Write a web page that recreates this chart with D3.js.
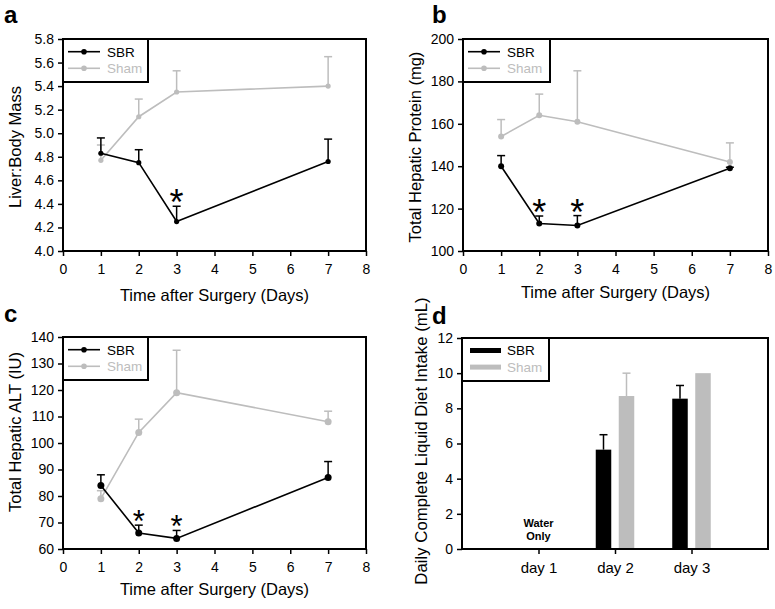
<!DOCTYPE html>
<html><head><meta charset="utf-8">
<script src="https://cdn.jsdelivr.net/npm/d3@7"></script>
<style>body{margin:0;background:#fff} svg{display:block} text{font-family:"Liberation Sans",Arial,sans-serif}</style>
</head><body><svg id="chart" width="775" height="609"></svg>
<script>
// ---- data ----
const days = [1, 2, 3, 7];
const xTicks = [0, 1, 2, 3, 4, 5, 6, 7, 8];
const seriesNames = ["SBR", "Sham"];

const massSBR = [4.83, 4.75, 4.25, 4.76];
const massSBRErr = [4.96, 4.86, 4.38, 4.95];
const massSham = [4.77, 5.14, 5.35, 5.40];
const massShamErr = [4.90, 5.29, 5.53, 5.65];
const massTicks = [4.0, 4.2, 4.4, 4.6, 4.8, 5.0, 5.2, 5.4, 5.6, 5.8];
const massStars = [3];

const protSBR = [140, 113, 112, 139];
const protSBRErr = [145, 116.5, 116.7, 139.5];
const protSham = [154, 164, 161, 142];
const protShamErr = [162, 174, 185, 151];
const protTicks = [100, 120, 140, 160, 180, 200];
const protStars = [2, 3];

const altSBR = [84, 66, 64, 87];
const altSBRErr = [88, 69, 67, 93];
const altSham = [79, 104, 119, 108];
const altShamErr = [82, 109, 135, 112];
const altTicks = [60, 70, 80, 90, 100, 110, 120, 130, 140];
const altStars = [2, 3];

const dietDays = ["day 1", "day 2", "day 3"];
const dietSBR = [null, 5.65, 8.55];
const dietSBRErr = [null, 6.5, 9.3];
const dietSham = [null, 8.7, 10.0];
const dietShamErr = [null, 10.0, 10.0];
const dietTicks = [0, 2, 4, 6, 8, 10, 12];
const dietNote = ["Water", "Only"];

// ---- styles ----
const BLACK = "#000", GREY = "#bdbdbd";
const svg = d3.select("#chart");

function frame(g, L, R, T, B) {
  g.append("rect").attr("x", L).attr("y", T).attr("width", R - L).attr("height", B - T)
    .attr("fill", "none").attr("stroke", BLACK).attr("stroke-width", 2);
}
function styleAxis(sel) {
  sel.select(".domain").remove();
  sel.selectAll(".tick line").attr("stroke", BLACK).attr("stroke-width", 1.5);
  sel.selectAll(".tick text").attr("fill", BLACK).attr("font-size", 14)
    .style("font-family", '"Liberation Sans",Arial,sans-serif');
}

function linePanel(cfg) {
  const g = svg.append("g");
  const x = d3.scaleLinear().domain([0, 8]).range([cfg.L, cfg.R]);
  const y = d3.scaleLinear().domain([cfg.ticks[0], cfg.ticks[cfg.ticks.length - 1]]).range([cfg.B, cfg.T]);

  const ax = g.append("g").attr("transform", `translate(0,${cfg.B})`)
    .call(d3.axisBottom(x).tickValues(xTicks).tickSize(5).tickPadding(8).tickFormat(d3.format("d")));
  styleAxis(ax);
  const ay = g.append("g").attr("transform", `translate(${cfg.L},0)`)
    .call(d3.axisLeft(y).tickValues(cfg.ticks).tickSize(5).tickPadding(4).tickFormat(cfg.fmt));
  styleAxis(ay);

  const series = [
    {vals: cfg.sham, err: cfg.shamErr, color: GREY},
    {vals: cfg.sbr, err: cfg.sbrErr, color: BLACK}
  ];
  series.forEach(s => {
    const pts = days.map((d, i) => ({d, v: s.vals[i], e: s.err[i]}));
    pts.forEach(p => {
      g.append("line").attr("x1", x(p.d)).attr("x2", x(p.d)).attr("y1", y(p.v)).attr("y2", y(p.e))
        .attr("stroke", s.color).attr("stroke-width", 1.5);
      g.append("line").attr("x1", x(p.d) - 4).attr("x2", x(p.d) + 4).attr("y1", y(p.e)).attr("y2", y(p.e))
        .attr("stroke", s.color).attr("stroke-width", 1.5);
    });
    g.append("path").datum(pts)
      .attr("d", d3.line().x(p => x(p.d)).y(p => y(p.v)))
      .attr("fill", "none").attr("stroke", s.color).attr("stroke-width", 1.6);
    g.selectAll(null).data(pts).enter().append("circle")
      .attr("cx", p => x(p.d)).attr("cy", p => y(p.v)).attr("r", cfg.r).attr("fill", s.color);
  });

  // asterisks: glyph centre placed ~8px above the SBR error cap
  cfg.stars.forEach(d => {
    const i = days.indexOf(d);
    const centre = y(cfg.sbrErr[i]) - 8;
    g.append("text").attr("x", x(d)).attr("y", centre + 0.47 * cfg.starSize)
      .attr("text-anchor", "middle").attr("font-size", cfg.starSize).attr("fill", BLACK).text("*");
  });

  frame(g, cfg.L, cfg.R, cfg.T, cfg.B);

  // legend
  const lw = cfg.legW, lh = 43;
  g.append("rect").attr("x", cfg.L).attr("y", cfg.T).attr("width", lw).attr("height", lh)
    .attr("fill", "#fff").attr("stroke", BLACK).attr("stroke-width", 2);
  [BLACK, GREY].forEach((c, k) => {
    const yy = cfg.T + 12.7 + k * 16.6;
    g.append("line").attr("x1", cfg.L + 5).attr("x2", cfg.L + 37).attr("y1", yy).attr("y2", yy)
      .attr("stroke", c).attr("stroke-width", 1.6);
    g.append("circle").attr("cx", cfg.L + 21).attr("cy", yy).attr("r", 2.8).attr("fill", c);
    g.append("text").attr("x", cfg.L + 44).attr("y", yy).attr("dy", "0.36em")
      .attr("font-size", 13.5).attr("fill", c).text(seriesNames[k]);
  });

  // titles
  g.append("text").attr("x", (cfg.L + cfg.R) / 2).attr("y", cfg.xtY).attr("text-anchor", "middle")
    .attr("font-size", 16.5).attr("fill", BLACK).text("Time after Surgery (Days)");
  g.append("text").attr("transform", `translate(${cfg.ytX},${cfg.ytY}) rotate(-90)`)
    .attr("text-anchor", "middle").attr("dy", "0.35em").attr("font-size", 16.5).attr("fill", BLACK).text(cfg.ytitle);
  g.append("text").attr("x", cfg.lx).attr("y", cfg.ly).attr("font-size", 24).attr("font-weight", "bold")
    .attr("fill", BLACK).text(cfg.letter);
}

linePanel({L: 63, R: 366, T: 39, B: 251, ticks: massTicks, fmt: d3.format(".1f"),
  sbr: massSBR, sbrErr: massSBRErr, sham: massSham, shamErr: massShamErr, stars: massStars,
  r: 2.6, starSize: 36, legW: 85, xtY: 301, ytX: 15, ytY: 147, ytitle: "Liver:Body Mass",
  letter: "a", lx: 4, ly: 23});
linePanel({L: 463, R: 768, T: 39, B: 251, ticks: protTicks, fmt: d3.format("d"),
  sbr: protSBR, sbrErr: protSBRErr, sham: protSham, shamErr: protShamErr, stars: protStars,
  r: 3, starSize: 36, legW: 87, xtY: 298, ytX: 415, ytY: 147, ytitle: "Total Hepatic Protein (mg)",
  letter: "b", lx: 432, ly: 23});
linePanel({L: 63, R: 366, T: 337, B: 549, ticks: altTicks, fmt: d3.format("d"),
  sbr: altSBR, sbrErr: altSBRErr, sham: altSham, shamErr: altShamErr, stars: altStars,
  r: 3.5, starSize: 31, legW: 85, xtY: 595, ytX: 15, ytY: 432, ytitle: "Total Hepatic ALT (IU)",
  letter: "c", lx: 4, ly: 322});

// ---- panel d: bars ----
(function () {
  const L = 462, R = 768, T = 338, B = 549;
  const g = svg.append("g");
  const x = d3.scaleLinear().domain([0, 4]).range([L, R]);
  const y = d3.scaleLinear().domain([0, 12]).range([B, T]);
  const ax = g.append("g").attr("transform", `translate(0,${B})`)
    .call(d3.axisBottom(x).tickValues([1, 2, 3]).tickSize(5).tickPadding(8).tickFormat(i => dietDays[i - 1]));
  styleAxis(ax);
  ax.selectAll(".tick text").attr("font-size", 15);
  const ay = g.append("g").attr("transform", `translate(${L},0)`)
    .call(d3.axisLeft(y).tickValues(dietTicks).tickSize(5).tickPadding(4));
  styleAxis(ay);

  const bw = 15.5, off = 11.5;
  const groups = [
    {vals: dietSBR, err: dietSBRErr, color: BLACK, dx: -off},
    {vals: dietSham, err: dietShamErr, color: GREY, dx: off}
  ];
  groups.forEach(s => {
    dietDays.forEach((d, i) => {
      const v = s.vals[i];
      if (v == null) return;
      const cx = x(i + 1) + s.dx;
      const e = s.err[i];
      if (e > v) {
        g.append("line").attr("x1", cx).attr("x2", cx).attr("y1", y(v)).attr("y2", y(e))
          .attr("stroke", s.color).attr("stroke-width", 1.5);
        g.append("line").attr("x1", cx - 4).attr("x2", cx + 4).attr("y1", y(e)).attr("y2", y(e))
          .attr("stroke", s.color).attr("stroke-width", 1.5);
      }
      g.append("rect").attr("x", cx - bw / 2).attr("y", y(v)).attr("width", bw).attr("height", y(0) - y(v))
        .attr("fill", s.color);
    });
  });

  dietNote.forEach((t, k) => {
    g.append("text").attr("x", x(1)).attr("y", 527 + k * 12.5).attr("text-anchor", "middle")
      .attr("font-size", 11).attr("font-weight", "bold").attr("fill", BLACK).text(t);
  });

  frame(g, L, R, T, B);

  g.append("rect").attr("x", L).attr("y", T).attr("width", 87).attr("height", 43)
    .attr("fill", "#fff").attr("stroke", BLACK).attr("stroke-width", 2);
  [BLACK, GREY].forEach((c, k) => {
    const yy = T + 12.5 + k * 16.6;
    g.append("rect").attr("x", L + 8).attr("y", yy - 2.5).attr("width", 31).attr("height", 5).attr("fill", c);
    g.append("text").attr("x", L + 45).attr("y", yy).attr("dy", "0.36em")
      .attr("font-size", 13.5).attr("fill", c).text(seriesNames[k]);
  });

  g.append("text").attr("transform", `translate(421,441) rotate(-90)`)
    .attr("text-anchor", "middle").attr("dy", "0.35em").attr("font-size", 16.8).attr("fill", BLACK)
    .text("Daily Complete Liquid Diet Intake (mL)");
  g.append("text").attr("x", 432).attr("y", 324).attr("font-size", 24).attr("font-weight", "bold")
    .attr("fill", BLACK).text("d");
})();
</script></body></html>
